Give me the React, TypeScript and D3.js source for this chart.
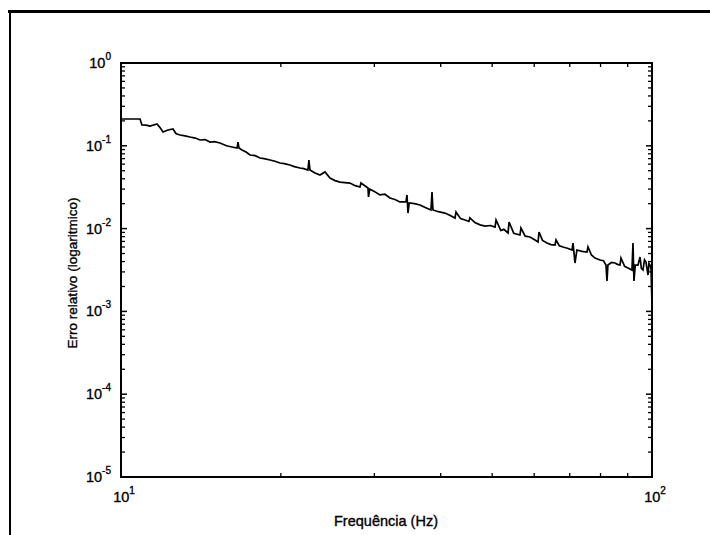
import React from "react";
import * as d3 from "d3";

// Frequency (Hz) and relative error
const freq = [
  10.0, 10.4, 10.86, 10.95, 11.15, 11.34, 11.69, 11.85, 12.0, 12.26, 12.53, 12.7, 12.92, 13.2,
  13.49, 13.8, 14.09, 14.4, 14.71, 15.0, 15.36, 15.8, 16.18, 16.54, 16.61, 16.68, 16.9, 17.2,
  17.5, 17.9, 18.27, 18.6, 19.08, 19.5, 19.92, 20.3, 20.8, 21.2, 21.73, 22.1, 22.49, 22.59, 22.69,
  23.2, 23.7, 24.22, 24.75, 25.3, 25.85, 26.4, 26.99, 27.6, 28.19, 28.31, 29.18, 29.25, 29.4,
  30.0, 30.74, 31.4, 32.1, 32.8, 33.52, 34.41, 34.56, 34.71, 34.9, 35.7, 36.57, 37.4, 38.35,
  38.52, 38.68, 39.6, 40.73, 41.6, 42.56, 42.75, 43.6, 44.45, 45.2, 45.4, 46.4, 47.44, 48.5, 49.6,
  50.63, 50.85, 51.9, 52.6, 53.57, 53.8, 54.9, 56.41, 56.65, 57.7, 58.91, 60.0, 61.01, 61.27,
  62.2, 63.43, 64.5, 65.67, 65.96, 66.9, 67.98, 69.3, 70.69, 71.0, 71.61, 72.2, 73.8, 75.44,
  75.76, 76.9, 78.09, 79.81, 81.0, 81.91, 82.27, 82.6, 83.9, 85.17, 86.1, 87.04, 87.42, 88.8,
  90.11, 91.68, 92.08, 92.48, 93.0, 94.11, 94.93, 95.5, 96.17, 96.8, 97.43, 98.28, 98.7, 99.14,
  99.57, 100.0,
];
const errRel = [
  0.2108, 0.2108, 0.2108, 0.1783, 0.178, 0.1734, 0.1834, 0.165, 0.1468, 0.1551, 0.1595, 0.14,
  0.1351, 0.132, 0.1278, 0.124, 0.1175, 0.119, 0.1111, 0.112, 0.1081, 0.1, 0.0967, 0.094, 0.1111,
  0.094, 0.089, 0.084, 0.0774, 0.076, 0.0712, 0.07, 0.0674, 0.065, 0.062, 0.061, 0.0586, 0.056,
  0.0539, 0.053, 0.051, 0.0674, 0.051, 0.047, 0.0444, 0.0483, 0.0408, 0.038, 0.0365, 0.036, 0.0355,
  0.033, 0.0318, 0.0355, 0.0309, 0.0241, 0.03, 0.028, 0.0255, 0.026, 0.0234, 0.0225, 0.021,
  0.021, 0.0255, 0.0154, 0.0204, 0.02, 0.0193, 0.018, 0.0168, 0.0277, 0.0168, 0.016, 0.0154,
  0.0145, 0.0134, 0.0159, 0.0132, 0.0127, 0.0122, 0.0135, 0.0118, 0.0111, 0.0107, 0.0109, 0.01045,
  0.0127, 0.0095, 0.0098, 0.00885, 0.012, 0.0088, 0.00837, 0.01017, 0.0081, 0.00792, 0.0074,
  0.00689, 0.0091, 0.0072, 0.0067, 0.0064, 0.00634, 0.00729, 0.0062, 0.006, 0.0058, 0.00551,
  0.0067, 0.00384, 0.00551, 0.0053, 0.00522, 0.006, 0.0048, 0.00441, 0.00418, 0.0041, 0.00363,
  0.00233, 0.00363, 0.0039, 0.00384, 0.0037, 0.00363, 0.00441, 0.0035, 0.00334, 0.00316, 0.0067,
  0.00233, 0.00363, 0.00363, 0.00454, 0.0033, 0.00316, 0.0042, 0.00395, 0.00275, 0.0038, 0.00363,
  0.00334, 0.00119,
];

const yTickExps = [0, -1, -2, -3, -4, -5];
const xTickExps = [1, 2];
const xLabel = "Frequência (Hz)";
const yLabel = "Erro relativo (logaritmico)";

const W = 710;
const H = 535;
const FONT = "'Liberation Sans', Arial, sans-serif";

export default function App() {
  const left = 121, right = 652, top = 63, bottom = 477;
  const x = d3.scaleLog().domain([10, 100]).range([left, right]);
  const y = d3.scaleLog().domain([1e-5, 1]).range([bottom, top]);

  const line = d3
    .line<number>()
    .x((_, i) => x(freq[i]))
    .y((v) => y(v));

  const yMinor: number[] = [];
  for (let e = -5; e < 0; e++) for (let m = 2; m <= 9; m++) yMinor.push(m * Math.pow(10, e));
  const xMinor: number[] = [];
  for (let m = 2; m <= 9; m++) xMinor.push(m * 10);

  const major = 6;
  const minor = 4;
  const txt = { fill: "#000", stroke: "#000", strokeWidth: 0.35 };

  return (
    <svg
      width={W}
      height={H}
      style={{ position: "absolute", left: 0, top: 0, display: "block", background: "#fff" }}
      fontFamily={FONT}
    >
      <rect x={0} y={0} width={W} height={H} fill="#fff" />
      {/* outer scanned frame */}
      <line x1={8} y1={11.5} x2={W} y2={11.5} stroke="#000" strokeWidth={3} />
      <line x1={10} y1={10} x2={10} y2={H} stroke="#000" strokeWidth={2} />

      {/* data line */}
      <path d={line(errRel) || ""} fill="none" stroke="#000" strokeWidth={1.7} strokeLinejoin="miter" />

      {/* axes box */}
      <rect x={left} y={top} width={right - left} height={bottom - top} fill="none" stroke="#000" strokeWidth={2} />

      {/* y ticks */}
      {yTickExps.map((e) => {
        const yy = y(Math.pow(10, e));
        return (
          <g key={"ym" + e}>
            <line x1={left} x2={left + major} y1={yy} y2={yy} stroke="#000" strokeWidth={1.5} />
            <line x1={right} x2={right - major} y1={yy} y2={yy} stroke="#000" strokeWidth={1.5} />
            <text x={111} y={yy + 5} textAnchor="end" fontSize={14.5} {...txt}>
              10
              <tspan dy={-8} fontSize={10}>
                {e}
              </tspan>
            </text>
          </g>
        );
      })}
      {yMinor.map((v, i) => {
        const yy = y(v);
        return (
          <g key={"yn" + i}>
            <line x1={left} x2={left + minor} y1={yy} y2={yy} stroke="#000" strokeWidth={1.3} />
            <line x1={right} x2={right - minor} y1={yy} y2={yy} stroke="#000" strokeWidth={1.3} />
          </g>
        );
      })}

      {/* x ticks */}
      {xMinor.map((v, i) => {
        const xx = x(v);
        return (
          <g key={"xn" + i}>
            <line x1={xx} x2={xx} y1={bottom} y2={bottom - minor} stroke="#000" strokeWidth={1.3} />
            <line x1={xx} x2={xx} y1={top} y2={top + minor} stroke="#000" strokeWidth={1.3} />
          </g>
        );
      })}
      {xTickExps.map((e) => {
        const xx = x(Math.pow(10, e));
        return (
          <text key={"xl" + e} x={xx + 3} y={502} textAnchor="middle" fontSize={14.5} {...txt}>
            10
            <tspan dy={-8} fontSize={10}>
              {e}
            </tspan>
          </text>
        );
      })}

      {/* axis titles */}
      <text x={386} y={526} textAnchor="middle" fontSize={14.5} {...txt}>
        {xLabel}
      </text>
      <text
        transform={`translate(77,273) rotate(-90)`}
        textAnchor="middle"
        fontSize={13.5}
        {...txt}
      >
        {yLabel}
      </text>
    </svg>
  );
}
